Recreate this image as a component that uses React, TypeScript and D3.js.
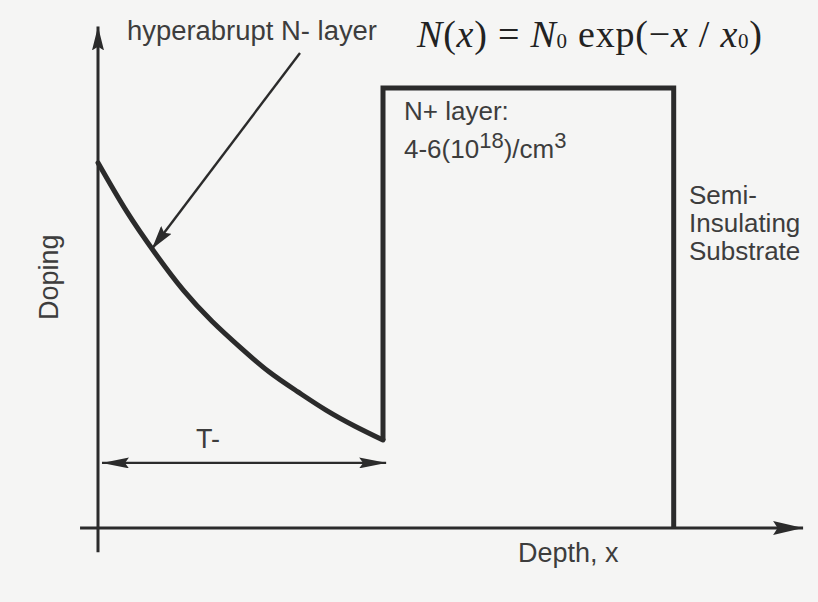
import React, { useEffect, useRef } from "react";
import * as d3 from "d3";

// Hyperabrupt N- layer profile (normalized depth, normalized doping)
const curveDepth = [0, 0.1, 0.2, 0.3, 0.4, 0.5, 0.6, 0.7, 0.8, 0.9, 1.0];
const curveDoping = [0.83, 0.72, 0.625, 0.54, 0.47, 0.41, 0.355, 0.31, 0.268, 0.232, 0.2];

// N+ layer: step from the end of the N- layer up to the plateau, then down to the substrate
const stepDepth = [1.0, 1.0, 2.02, 2.02];
const stepDoping = [0.2, 1.0, 1.0, 0.0];

// Axis extents
const depthExtent = [-0.063, 2.474];
const dopingExtent = [-0.055, 1.14];

// T- span arrow
const tSpan = [0.014, 1.011];
const tLevel = 0.148;

const W = 818;
const H = 602;

export default function App() {
  const ref = useRef<SVGSVGElement>(null);

  useEffect(() => {
    document.body.style.margin = "0";
    const svg = d3.select(ref.current);
    svg.selectAll("*").remove();

    const x = d3.scaleLinear().domain([0, 1]).range([98, 383]);
    const y = d3.scaleLinear().domain([0, 1]).range([528, 88]);

    const ink = "#2b2b2b";
    const textInk = "#3d3d3d";

    svg.append("rect").attr("width", W).attr("height", H).attr("fill", "#f5f5f4");

    const defs = svg.append("defs");
    const mk = (id: string, len: number, half: number) => {
      defs
        .append("marker")
        .attr("id", id)
        .attr("viewBox", `0 ${-half} ${len} ${half * 2}`)
        .attr("refX", len)
        .attr("refY", 0)
        .attr("markerUnits", "userSpaceOnUse")
        .attr("markerWidth", len)
        .attr("markerHeight", half * 2)
        .attr("orient", "auto-start-reverse")
        .append("path")
        .attr("d", `M0,${-half}L${len},0L0,${half}L${len * 0.15},0Z`)
        .attr("fill", ink);
    };
    mk("axisHead", 30, 7);
    mk("yHead", 24, 6);
    mk("spanHead", 27, 5.5);
    mk("callHead", 24, 6.5);

    // Axes
    svg
      .append("line")
      .attr("x1", x(depthExtent[0]))
      .attr("x2", x(depthExtent[1]))
      .attr("y1", y(0))
      .attr("y2", y(0))
      .attr("stroke", ink)
      .attr("stroke-width", 3)
      .attr("marker-end", "url(#axisHead)");
    svg
      .append("line")
      .attr("x1", x(0))
      .attr("x2", x(0))
      .attr("y1", y(dopingExtent[0]))
      .attr("y2", y(dopingExtent[1]))
      .attr("stroke", ink)
      .attr("stroke-width", 3)
      .attr("marker-end", "url(#yHead)");

    // N- exponential profile
    const line = d3
      .line<[number, number]>()
      .x((d) => x(d[0]))
      .y((d) => y(d[1]))
      .curve(d3.curveNatural);
    svg
      .append("path")
      .attr("d", line(curveDepth.map((d, i) => [d, curveDoping[i]] as [number, number])))
      .attr("fill", "none")
      .attr("stroke", ink)
      .attr("stroke-width", 5)
      .attr("stroke-linecap", "round");

    // N+ layer step
    const stepLine = d3
      .line<[number, number]>()
      .x((d) => x(d[0]))
      .y((d) => y(d[1]))
      .curve(d3.curveLinear);
    svg
      .append("path")
      .attr("d", stepLine(stepDepth.map((d, i) => [d, stepDoping[i]] as [number, number])))
      .attr("fill", "none")
      .attr("stroke", ink)
      .attr("stroke-width", 5)
      .attr("stroke-linejoin", "miter");

    // T- span arrow
    svg
      .append("line")
      .attr("x1", x(tSpan[0]))
      .attr("x2", x(tSpan[1]))
      .attr("y1", y(tLevel))
      .attr("y2", y(tLevel))
      .attr("stroke", ink)
      .attr("stroke-width", 2.2)
      .attr("marker-start", "url(#spanHead)")
      .attr("marker-end", "url(#spanHead)");

    // Callout arrow to the curve
    svg
      .append("line")
      .attr("x1", 300)
      .attr("y1", 53)
      .attr("x2", x(0.196) - 2)
      .attr("y2", y(0.625) - 4)
      .attr("stroke", ink)
      .attr("stroke-width", 2.4)
      .attr("marker-end", "url(#callHead)");

    const sans = "'Liberation Sans', Arial, Helvetica, sans-serif";
    const txt = (s: string, tx: number, ty: number, size: number) =>
      svg
        .append("text")
        .attr("x", tx)
        .attr("y", ty)
        .attr("font-family", sans)
        .attr("font-size", size)
        .attr("fill", textInk)
        .text(s);

    txt("hyperabrupt N- layer", 127, 40, 27).attr("textLength", 250).attr("lengthAdjust", "spacingAndGlyphs");
    txt("T-", 196, 448, 27);
    txt("Depth, x", 518, 562, 27);
    txt("Semi-", 689, 204, 26);
    txt("Insulating", 689, 232, 26);
    txt("Substrate", 689, 260, 26);
    txt("N+ layer:", 404, 120, 26);

    const conc = svg
      .append("text")
      .attr("x", 404)
      .attr("y", 158)
      .attr("font-family", sans)
      .attr("font-size", 26)
      .attr("fill", textInk);
    conc.append("tspan").text("4-6(10");
    conc.append("tspan").attr("dy", -10).attr("font-size", 22).text("18");
    conc.append("tspan").attr("dy", 10).text(")/cm");
    conc.append("tspan").attr("dy", -10).attr("font-size", 22).text("3");

    svg
      .append("text")
      .attr("transform", "translate(58,320) rotate(-90)")
      .attr("font-family", sans)
      .attr("font-size", 27)
      .attr("fill", textInk)
      .text("Doping");

    // Formula
    const serif = "'Liberation Serif', 'Times New Roman', serif";
    const f = svg
      .append("text")
      .attr("x", 417)
      .attr("y", 47)
      .attr("font-family", serif)
      .attr("font-size", 38)
      .attr("fill", "#222")
      .attr("textLength", 345)
      .attr("lengthAdjust", "spacing");
    f.append("tspan").attr("font-style", "italic").text("N");
    f.append("tspan").text("(");
    f.append("tspan").attr("font-style", "italic").text("x");
    f.append("tspan").text(") = ");
    f.append("tspan").attr("font-style", "italic").text("N");
    f.append("tspan").attr("font-size", 21).attr("dy", 1).text("0");
    f.append("tspan").attr("dy", -1).text(" exp(\u2212");
    f.append("tspan").attr("font-style", "italic").text("x");
    f.append("tspan").text(" / ");
    f.append("tspan").attr("font-style", "italic").text("x");
    f.append("tspan").attr("font-size", 21).attr("dy", 1).text("0");
    f.append("tspan").attr("dy", -1).text(")");
  }, []);

  return (
    <svg
      ref={ref}
      width={W}
      height={H}
      style={{ position: "absolute", left: 0, top: 0, display: "block" }}
    />
  );
}
